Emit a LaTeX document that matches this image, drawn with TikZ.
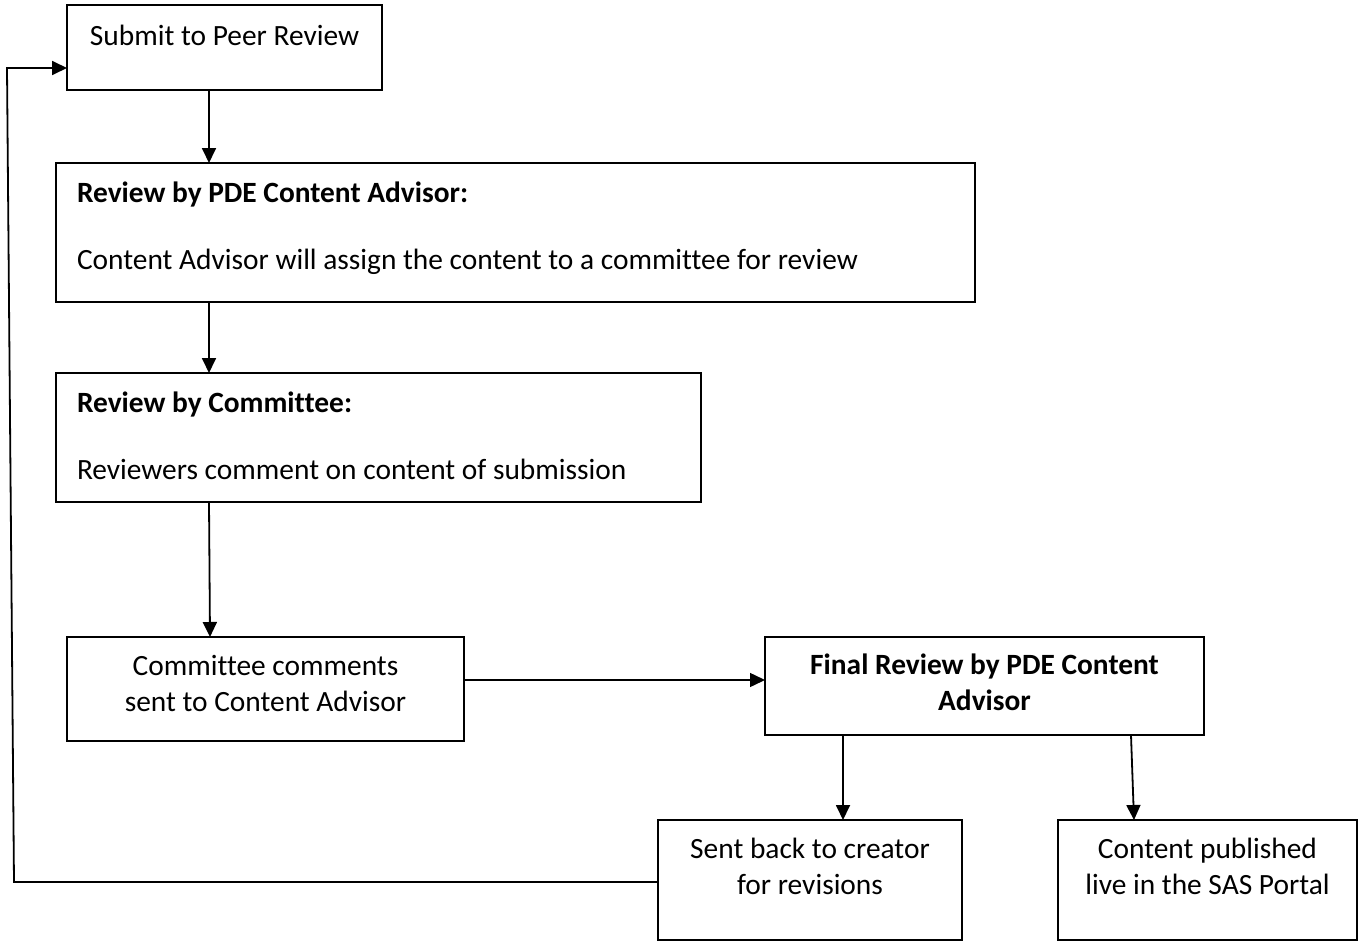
\documentclass[tikz,border=0pt]{standalone}
\usepackage{fontspec}
\setmainfont{Carlito}[Ligatures=NoCommon]
\usetikzlibrary{arrows.meta}

\begin{document}
\begin{tikzpicture}[x=1pt,y=-1pt,font=\fontsize{29.4pt}{36.5pt}\selectfont]
		\tikzstyle{box}=[draw,line width=2pt,anchor=north west,outer sep=0pt,inner ysep=0pt,inner xsep=5pt,align=flush center]
		\tikzstyle{arr}=[line width=1.8pt,-{Triangle[length=15pt,width=14pt]}]

		\useasboundingbox (0,0) rectangle (1358,942);

		\node[box, text width=305pt, text height=41pt, text depth=44pt] (submit) at (67,5) {Submit to Peer Review};
		\node[box, align=flush left, inner xsep=21pt, text width=877pt, text height=39pt, text depth=100pt] (advisor) at (56,163)
			{\textbf{Review by PDE Content Advisor:}\\[31pt]Content Advisor will assign the content to a committee for review};
		\node[box, align=flush left, inner xsep=21pt, text width=603pt, text height=39pt, text depth=90pt] (committee) at (56,373)
			{\textbf{Review by Committee:}\\[31pt]Reviewers comment on content of submission};
		\node[box, text width=387pt, text height=38pt, text depth=66pt] (comments) at (67,637) {Committee comments\\sent to Content Advisor};
		\node[box, text width=429pt, text height=37pt, text depth=61pt, font=\fontsize{29.4pt}{36.5pt}\selectfont\bfseries] (final) at (765,637) {Final Review by PDE Content\\Advisor};
		\node[box, text width=294pt, text height=38pt, text depth=82pt] (sent) at (658,820) {Sent back to creator\\for revisions};
		\node[box, text width=289pt, text height=38pt, text depth=82pt] (published) at (1058,820) {Content published\\live in the SAS Portal};

		\coordinate (loopbot) at (14,882);
		\coordinate (looptop) at (7,68);

		\draw[arr] ([xshift=142pt]submit.south west) -- ([xshift=142pt]submit.south west |- advisor.north);
		\draw[arr] ([xshift=153pt]advisor.south west) -- ([xshift=153pt]advisor.south west |- committee.north);
		\draw[arr] ([xshift=153pt]committee.south west) -- ([xshift=154pt]committee.south west |- comments.north);
		\draw[arr, line width=1.5pt] ([yshift=9pt]comments.east) -- ([yshift=9pt]comments.east -| final.west);
		\draw[arr] ([xshift=78pt]final.south west) -- ([xshift=78pt]final.south west |- sent.north);
		\draw[arr] ([xshift=366pt]final.south west) -- ([xshift=76pt]published.north west);
		\draw[arr] ([yshift=-2pt]sent.west) -- (loopbot) -- (looptop) -- (submit.west |- looptop);
	\end{tikzpicture}
\end{document}
